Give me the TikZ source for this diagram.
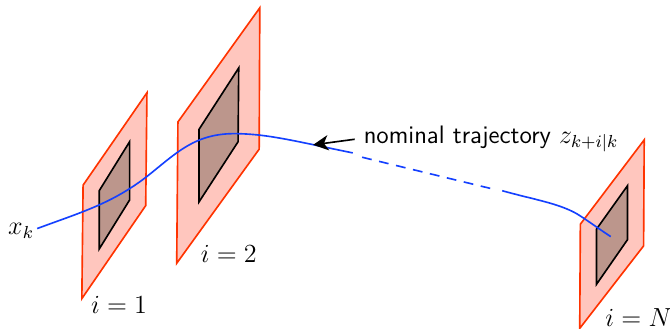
\documentclass[tikz,border=0pt]{standalone}
\usepackage{xcolor}
\usepackage{tikz}
\usetikzlibrary{arrows.meta}
\definecolor{SetRed}{HTML}{FF3300}
\definecolor{SetFill}{HTML}{FFC6BE}
\definecolor{TubeFill}{HTML}{BC968C}
\definecolor{TrajBlue}{HTML}{1440FF}
\tikzset{
  outerset/.style={draw=SetRed,fill=SetFill,line width=0.75pt},
  innerset/.style={draw=black,fill=TubeFill,line width=0.75pt},
  trajline/.style={TrajBlue,line width=0.75pt},
  every node/.style={font=\fontsize{11.6}{14}\selectfont},
}

\begin{document}
\begin{tikzpicture}[x=1cm,y=1cm]
\path[use as bounding box] (0,0) rectangle (10.806,5.306);
\draw[outerset] (1.34,2.32) -- (2.37,3.81) -- (2.35,1.99) -- (1.32,0.49) -- cycle;
\draw[innerset] (1.60,2.23) -- (2.09,3.02) -- (2.09,2.08) -- (1.60,1.29) -- cycle;
\draw[outerset] (2.87,3.34) -- (4.19,5.18) -- (4.18,2.90) -- (2.85,1.06) -- cycle;
\draw[innerset] (3.21,3.22) -- (3.85,4.21) -- (3.84,3.02) -- (3.21,2.05) -- cycle;
\draw[outerset] (9.36,1.69) -- (10.39,3.05) -- (10.38,1.34) -- (9.35,0.01) -- cycle;
\draw[innerset] (9.62,1.61) -- (10.12,2.31) -- (10.12,1.44) -- (9.62,0.72) -- cycle;
\draw[trajline] (0.60,1.62) .. controls (1.30,1.88) and (1.80,2.02) .. (2.37,2.46) .. controls (2.85,2.84) and (3.15,3.17) .. (3.84,3.15) .. controls (4.35,3.14) and (4.80,3.02) .. (5.69,2.84);
\draw[trajline,dash pattern=on 4.5pt off 3.5pt] (5.84,2.77) -- (7.94,2.26);
\draw[trajline] (8.10,2.23) .. controls (8.60,2.09) and (9.00,2.03) .. (9.30,1.86) .. controls (9.45,1.77) and (9.65,1.62) .. (9.85,1.49);
\node (xk) at (0.34,1.58) {$x_k$};
\node (iOne) at (1.92,0.39) {$i=1$};
\node (iTwo) at (3.69,1.21) {$i=2$};
\node (iN) at (10.30,0.18) {$i=N$};
\node[anchor=west,inner sep=2pt] (nomlabel) at (5.79,3.06) {\textsf{nominal trajectory} $z_{k+i|k}$};
\coordinate (trajtip) at (5.05,2.97);
\draw[-{Stealth[length=7pt,width=7pt,inset=2pt]},line width=0.75pt] (nomlabel.west) ++(-0.07,0) -- (trajtip);
\end{tikzpicture}
\end{document}
